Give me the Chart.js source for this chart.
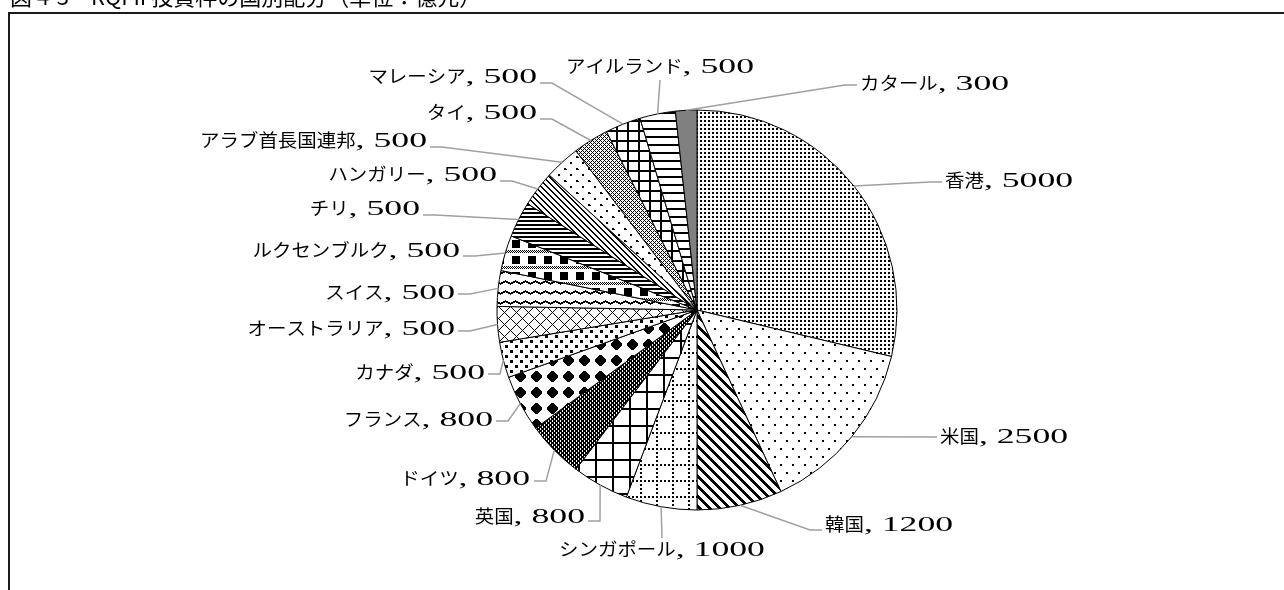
<!DOCTYPE html>
<html lang="ja">
<head>
<meta charset="utf-8">
<script src="https://cdn.jsdelivr.net/npm/chart.js@4.4.0/dist/chart.umd.min.js"></script>
<style>
  html, body { margin: 0; padding: 0; background: #fff; }
  canvas { display: block; }
</style>
</head>
<body>
<canvas id="pieChart" width="1284" height="590"></canvas>
<script>
// 国・地域別の投資枠（億元）
const countries = ['香港', '米国', '韓国', 'シンガポール', '英国', 'ドイツ', 'フランス', 'カナダ',
  'オーストラリア', 'スイス', 'ルクセンブルク', 'チリ', 'ハンガリー', 'アラブ首長国連邦', 'タイ',
  'マレーシア', 'アイルランド', 'カタール'];
const quotas = [5000, 2500, 1200, 1000, 800, 800, 800, 500, 500, 500, 500, 500, 500, 500, 500, 500, 500, 300];
const titleText = '図 4-3　RQFII 投資枠の国別配分（単位：億元）';

// label placement: text x, text y (visual centre), alignment, leader attach x, attach y
const labelLayout = [
  [945, 180, 'left', 942, 182],
  [940, 436, 'left', 937, 437],
  [825, 524, 'left', 822, 530],
  [662, 549, 'center', 662, 538],
  [585, 516, 'right', 588, 521],
  [530, 478, 'right', 534, 481],
  [493, 419, 'right', 496, 421],
  [485, 372, 'right', 488, 374],
  [455, 328, 'right', 458, 331],
  [455, 292, 'right', 458, 294],
  [460, 250, 'right', 463, 256],
  [420, 208, 'right', 423, 215],
  [497, 174, 'right', 500, 181],
  [427, 140, 'right', 430, 147],
  [537, 112, 'right', 540, 119],
  [537, 76, 'right', 540, 83],
  [660, 66, 'center', 660, 80],
  [860, 83, 'left', 857, 85]
];

const NAME_FONT = '18px "Noto Sans CJK JP"';
const NAME_SX = 1.08;
const NUM_FONT = '21px "Liberation Serif"';
const NUM_SX = 1.7;

// black & white tile fills, one predicate per slice
function makePattern(w, h, fn) {
  const c = document.createElement('canvas');
  c.width = w;
  c.height = h;
  const g = c.getContext('2d');
  const img = g.createImageData(w, h);
  for (let y = 0; y < h; y++) {
    for (let x = 0; x < w; x++) {
      const i = (y * w + x) * 4;
      const v = fn(x, y) ? 0 : 255;
      img.data[i] = v;
      img.data[i + 1] = v;
      img.data[i + 2] = v;
      img.data[i + 3] = 255;
    }
  }
  g.putImageData(img, 0, 0);
  return g.createPattern(c, 'repeat');
}

const fills = [
  makePattern(4, 4, (x, y) => x < 2 && y < 2),
  makePattern(12, 16, (x, y) => (x < 2 && y < 2) || (x >= 6 && x < 8 && y >= 8 && y < 10)),
  makePattern(10, 10, (x, y) => (x - y + 10) % 10 < 4),
  makePattern(16, 16, (x, y) => (x < 2 && y % 4 < 2) || (y < 2 && x % 4 < 2)),
  makePattern(17, 17, (x, y) => x < 2 || y < 2),
  makePattern(4, 4, (x, y) => !((x === 0 && y < 2) || (x === 2 && y >= 2))),
  makePattern(16, 16, (x, y) => Math.abs(x - 8) + Math.abs(y - 8) <= 6 && Math.max(Math.abs(x - 8), Math.abs(y - 8)) <= 5),
  makePattern(10, 10, (x, y) => (x < 3 && y < 3) || (x >= 5 && x < 8 && y >= 5 && y < 8)),
  makePattern(12, 12, (x, y) => (x + y) % 12 === 0 || (x - y + 12) % 12 === 0),
  makePattern(10, 10, (x, y) => (y - Math.round(Math.abs((x % 10) - 5) * 0.6) + 10) % 10 < 2),
  makePattern(16, 16, (x, y) => (y < 8 && x < 8) || (y >= 10 && y < 13 && (x + y) % 2 === 0)),
  makePattern(4, 4, (x, y) => y < 2),
  makePattern(6, 6, (x, y) => (x - y + 6) % 6 < 2),
  makePattern(12, 12, (x, y) => (x < 2 && y < 2) || (x === 2 && y === 1) || (x >= 6 && x < 8 && y >= 6 && y < 8)),
  makePattern(4, 4, (x, y) => (x + y) % 4 === 0 || (x - y + 4) % 4 === 0),
  makePattern(11, 10, (x, y) => x < 2 || y < 2),
  makePattern(8, 8, (x, y) => y < 2),
  '#808080'
];

function drawLabel(ctx, name, value, x, y, align) {
  const numText = ', ' + value;
  ctx.font = NAME_FONT;
  const wName = ctx.measureText(name).width * NAME_SX;
  ctx.font = NUM_FONT;
  const wNum = ctx.measureText(numText).width * NUM_SX;
  const total = wName + wNum;
  let left = x;
  if (align === 'right') left = x - total;
  if (align === 'center') left = x - total / 2;
  const base = y + 7;

  ctx.fillStyle = '#000';
  ctx.textAlign = 'left';
  ctx.textBaseline = 'alphabetic';
  ctx.save();
  ctx.translate(left, base);
  ctx.scale(NAME_SX, 1);
  ctx.font = NAME_FONT;
  ctx.fillText(name, 0, 0);
  ctx.restore();
  ctx.save();
  ctx.translate(left + wName, base);
  ctx.scale(NUM_SX, 1);
  ctx.font = NUM_FONT;
  ctx.fillText(numText, 0, 0);
  ctx.restore();
}

// outer frame and the caption line above it (only its lower edge fits on the page)
const framePlugin = {
  id: 'frame',
  afterDraw(chart) {
    const ctx = chart.ctx;
    ctx.save();
    ctx.fillStyle = '#fff';
    ctx.fillRect(0, 0, chart.width, 12);
    ctx.fillStyle = '#000';
    ctx.font = '22px "Noto Sans CJK JP"';
    ctx.textAlign = 'left';
    ctx.textBaseline = 'alphabetic';
    ctx.fillText(titleText, 10, 5);
    ctx.strokeStyle = '#1a1a1a';
    ctx.lineWidth = 2;
    ctx.beginPath();
    ctx.moveTo(9, chart.height);
    ctx.lineTo(9, 13);
    ctx.lineTo(chart.width, 13);
    ctx.stroke();
    ctx.restore();
  }
};

const labelPlugin = {
  id: 'pieLabels',
  afterDatasetsDraw(chart) {
    const ctx = chart.ctx;
    const meta = chart.getDatasetMeta(0);
    ctx.save();
    meta.data.forEach((arc, i) => {
      const p = arc.getProps(['x', 'y', 'startAngle', 'endAngle', 'outerRadius'], true);
      const mid = (p.startAngle + p.endAngle) / 2;
      const ex = p.x + Math.cos(mid) * p.outerRadius;
      const ey = p.y + Math.sin(mid) * p.outerRadius;
      const [tx, ty, align, ax, ay] = labelLayout[i];
      let bx = ax;
      if (align === 'left') bx = ax - 12;
      if (align === 'right') bx = ax + 12;

      ctx.strokeStyle = '#a0a0a0';
      ctx.lineWidth = 1.5;
      ctx.beginPath();
      ctx.moveTo(ex, ey);
      ctx.lineTo(bx, ay);
      ctx.lineTo(ax, ay);
      ctx.stroke();

      drawLabel(ctx, countries[i], quotas[i], tx, ty, align);
    });
    ctx.restore();
  }
};

new Chart(document.getElementById('pieChart'), {
  type: 'pie',
  data: {
    labels: countries,
    datasets: [{
      data: quotas,
      backgroundColor: fills,
      borderColor: '#000',
      borderWidth: 1
    }]
  },
  options: {
    responsive: false,
    devicePixelRatio: 1,
    animation: false,
    radius: 200,
    layout: { padding: { top: 110, bottom: 80, left: 400, right: 290 } },
    plugins: {
      legend: { display: false },
      tooltip: { enabled: false }
    }
  },
  plugins: [framePlugin, labelPlugin]
});
</script>
</body>
</html>
